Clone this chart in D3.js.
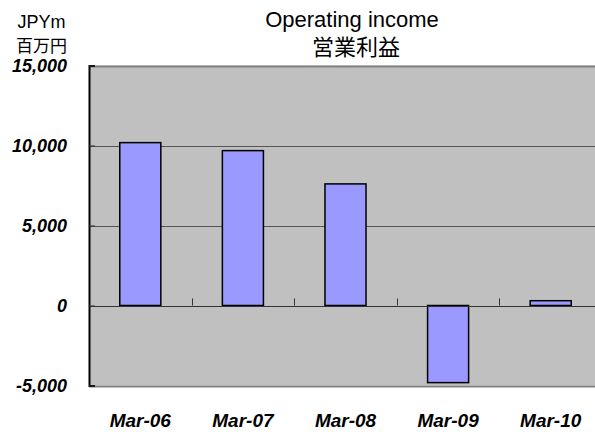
<!DOCTYPE html>
<html><head><meta charset="utf-8">
<script src="https://cdn.jsdelivr.net/npm/d3@7"></script>
<style>body{margin:0;background:#fff}svg{display:block}</style>
</head><body>
<svg id="c" width="595" height="432"></svg>
<script>
const categories = ["Mar-06","Mar-07","Mar-08","Mar-09","Mar-10"];
const values = [10180, 9680, 7600, -4820, 300];
const yTicks = [-5000, 0, 5000, 10000, 15000];

const svg = d3.select("#c");
const m = {left: 89, right: 602, top: 65.5, bottom: 385.5};
const x = d3.scaleBand().domain(categories).range([m.left, m.right]).paddingInner(0).paddingOuter(0);
const y = d3.scaleLinear().domain([-5000, 15000]).range([m.bottom, m.top]);
const fmt = d3.format(",");
const fmtTick = d => fmt(d).replace("\u2212", "-");
const latin = "Liberation Sans, Arial, sans-serif";
const cjk = "Noto Sans CJK JP, sans-serif";

// plot area
svg.append("rect").attr("x", m.left).attr("y", m.top).attr("width", m.right - m.left).attr("height", m.bottom - m.top).attr("fill", "#C0C0C0");

// gridlines
svg.append("g").selectAll("line").data(yTicks.filter(d => d !== 0)).join("line")
  .attr("x1", m.left).attr("x2", m.right)
  .attr("y1", d => Math.round(y(d)) + 0.5).attr("y2", d => Math.round(y(d)) + 0.5)
  .attr("stroke", d => (d === 15000 || d === -5000) ? "#808080" : "#555").attr("stroke-width", d => (d === 15000 || d === -5000) ? 2 : 1);

// bars
svg.append("g").selectAll("rect").data(values).join("rect")
  .attr("x", (d, i) => x(categories[i]) + x.bandwidth() * 0.3)
  .attr("width", x.bandwidth() * 0.4)
  .attr("y", d => y(Math.max(0, d)))
  .attr("height", d => Math.abs(y(d) - y(0)))
  .attr("fill", "#9999FF").attr("stroke", "#000").attr("stroke-width", 1.5);

// zero axis line
svg.append("line").attr("x1", m.left).attr("x2", m.right)
  .attr("y1", Math.round(y(0)) + 0.5).attr("y2", Math.round(y(0)) + 0.5)
  .attr("stroke", "#333").attr("stroke-width", 1.2);

// category tick marks on zero line (inside, upward)
svg.append("g").selectAll("line").data(categories.slice(1)).join("line")
  .attr("x1", d => Math.round(x(d)) + 0.5).attr("x2", d => Math.round(x(d)) + 0.5)
  .attr("y1", y(0)).attr("y2", y(0) - 7)
  .attr("stroke", "#333").attr("stroke-width", 1);

// left axis
const yAxis = d3.axisLeft(y).tickValues(yTicks).tickSize(-6).tickFormat(fmtTick);
const ga = svg.append("g").attr("transform", `translate(${m.left},0)`).call(yAxis);
ga.select(".domain").attr("stroke", "#000").attr("stroke-width", 2);
ga.selectAll(".tick line").attr("stroke", "#333");
ga.selectAll(".tick text").attr("font-family", latin)
  .attr("font-size", 18).attr("font-weight", "bold").attr("font-style", "italic")
  .attr("fill", "#000").attr("x", -22).attr("dy", "0.35em");

// x labels
const xAxis = d3.axisBottom(x).tickSize(0).tickPadding(0);
const gx = svg.append("g").attr("transform", `translate(0,427)`).call(xAxis);
gx.select(".domain").remove();
gx.selectAll(".tick text").attr("font-family", latin)
  .attr("font-size", 19).attr("font-weight", "bold").attr("font-style", "italic")
  .attr("fill", "#000").attr("y", 0).attr("dy", 0);

// titles
svg.append("text").attr("x", 352).attr("y", 27).attr("text-anchor", "middle")
  .attr("font-family", latin).attr("font-size", 22).text("Operating income");
svg.append("text").attr("x", 356).attr("y", 55).attr("text-anchor", "middle")
  .attr("font-family", cjk).attr("font-size", 22).text("営業利益");
svg.append("text").attr("x", 41.5).attr("y", 28).attr("text-anchor", "middle")
  .attr("font-family", latin).attr("font-size", 18).text("JPYm");
svg.append("text").attr("x", 41.5).attr("y", 52).attr("text-anchor", "middle")
  .attr("font-family", cjk).attr("font-size", 17).text("百万円");
</script>
</body></html>
